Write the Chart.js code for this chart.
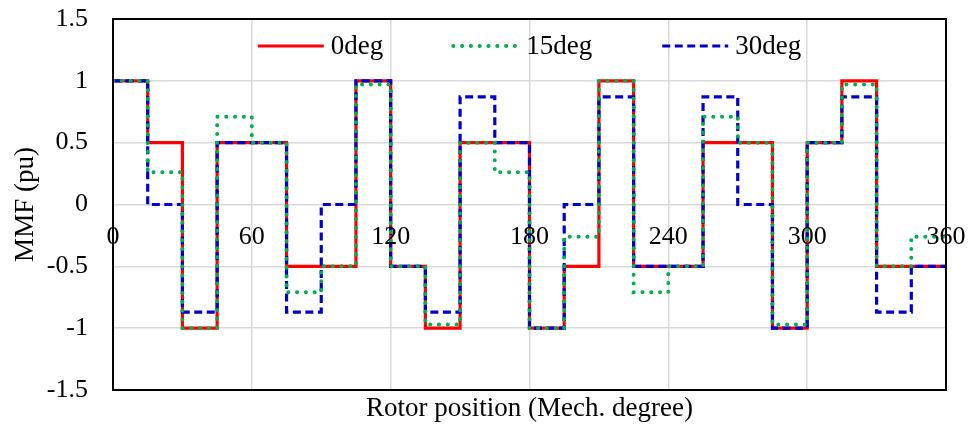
<!DOCTYPE html>
<html>
<head>
<meta charset="utf-8">
<title>MMF vs rotor position</title>
<script src="https://cdn.jsdelivr.net/npm/chart.js@4.4.1/dist/chart.umd.min.js"></script>
<style>
    html, body { margin: 0; padding: 0; background: #fff; }
    #wrap { width: 969px; height: 425px; position: relative; }
</style>
</head>
<body>
<div id="wrap"><canvas id="mmfChart"></canvas></div>
<script>
// step edges (mech. degrees); each value holds until the next edge
var angles = [0, 15, 30, 45, 60, 75, 90, 105, 120, 135, 150, 165, 180,
              195, 210, 225, 240, 255, 270, 285, 300, 315, 330, 345, 360];

var mmf0 = [1, 0.5, -1, 0.5, 0.5, -0.5, -0.5, 1, -0.5, -1, 0.5, 0.5, -1,
            -0.5, 1, -0.5, -0.5, 0.5, 0.5, -1, 0.5, 1, -0.5, -0.5, -0.5];
var mmf15 = [1, 0.26, -1, 0.71, 0.5, -0.71, -0.5, 0.97, -0.5, -0.97, 0.5, 0.26, -1,
             -0.26, 1, -0.71, -0.5, 0.71, 0.5, -0.97, 0.5, 0.97, -0.5, -0.26, -0.26];
var mmf30 = [1, 0, -0.87, 0.5, 0.5, -0.87, 0, 1, -0.5, -0.87, 0.87, 0.5, -1,
             0, 0.87, -0.5, -0.5, 0.87, 0, -1, 0.5, 0.87, -0.87, -0.5, -0.5];

var seriesNames = ['0deg', '15deg', '30deg'];
var xTicks = [0, 60, 120, 180, 240, 300, 360];
var yTicks = [-1.5, -1, -0.5, 0, 0.5, 1, 1.5];

var FONT = "'Liberation Serif', 'Times New Roman', serif";

function toPoints(values) {
    return angles.map(function (a, i) { return { x: a, y: values[i] }; });
}

// x labels sit just under the zero line, legend floats inside the plot, black frame
var overlay = {
    id: 'overlay',
    afterDraw: function (chart) {
        var ctx = chart.ctx;
        var area = chart.chartArea;
        var xs = chart.scales.x;
        var ys = chart.scales.y;

        ctx.save();
        ctx.strokeStyle = '#000';
        ctx.lineWidth = 2;
        ctx.strokeRect(area.left, area.top, area.right - area.left, area.bottom - area.top);

        ctx.fillStyle = '#000';
        ctx.font = '26px ' + FONT;
        ctx.textAlign = 'center';
        ctx.textBaseline = 'middle';
        var y0 = ys.getPixelForValue(0) + 33;
        xTicks.forEach(function (t) {
            ctx.fillText(String(t), xs.getPixelForValue(t), y0);
        });

        // legend
        var lineLen = 66, gap = 7, itemGap = 70;
        ctx.font = '27px ' + FONT;
        ctx.textAlign = 'left';
        var widths = seriesNames.map(function (n) { return ctx.measureText(n).width; });
        var total = 0;
        widths.forEach(function (w, i) {
            total += lineLen + gap + w + (i < widths.length - 1 ? itemGap : 0);
        });
        var lx = (area.left + area.right) / 2 - total / 2;
        var ly = 46;
        chart.data.datasets.forEach(function (ds, i) {
            ctx.save();
            ctx.strokeStyle = ds.borderColor;
            ctx.lineWidth = ds.borderWidth;
            ctx.lineCap = ds.borderCapStyle || 'butt';
            ctx.setLineDash(ds.borderDash || []);
            ctx.beginPath();
            ctx.moveTo(lx, ly);
            ctx.lineTo(lx + lineLen, ly);
            ctx.stroke();
            ctx.restore();
            ctx.fillText(ds.label, lx + lineLen + gap, ly + 1);
            lx += lineLen + gap + widths[i] + itemGap;
        });
        ctx.restore();
    }
};

var ctx = document.getElementById('mmfChart').getContext('2d');
new Chart(ctx, {
    type: 'line',
    data: {
        datasets: [{
            label: seriesNames[0],
            data: toPoints(mmf0),
            borderColor: '#ff0000',
            borderWidth: 3.2,
            stepped: 'before',
            pointRadius: 0,
            order: 2
        }, {
            label: seriesNames[1],
            data: toPoints(mmf15),
            borderColor: '#00b050',
            borderWidth: 4,
            borderDash: [0.1, 8.7],
            borderCapStyle: 'round',
            stepped: 'before',
            pointRadius: 0,
            order: 0
        }, {
            label: seriesNames[2],
            data: toPoints(mmf30),
            borderColor: '#0000cc',
            borderWidth: 3.2,
            borderDash: [8, 4.5],
            stepped: 'before',
            pointRadius: 0,
            order: 1
        }]
    },
    options: {
        responsive: true,
        maintainAspectRatio: false,
        animation: false,
        layout: { padding: { top: 19, right: 23, left: 0, bottom: 0 } },
        plugins: {
            legend: { display: false },
            tooltip: { enabled: false }
        },
        scales: {
            x: {
                type: 'linear',
                min: 0,
                max: 360,
                afterBuildTicks: function (scale) {
                    scale.ticks = xTicks.map(function (v) { return { value: v }; });
                },
                afterFit: function (scale) {
                    scale.height = 35;
                    scale.paddingLeft = 0;
                    scale.paddingRight = 0;
                },
                ticks: { display: false },
                grid: { color: '#d9d9d9', lineWidth: 1.5, drawTicks: false },
                border: { display: false },
                title: {
                    display: true,
                    text: 'Rotor position (Mech. degree)',
                    color: '#000',
                    font: { family: FONT, size: 27 },
                    padding: { top: 0, bottom: 0 }
                }
            },
            y: {
                min: -1.5,
                max: 1.5,
                afterBuildTicks: function (scale) {
                    scale.ticks = yTicks.map(function (v) { return { value: v }; });
                },
                afterFit: function (scale) {
                    scale.width = 113;
                    scale.paddingTop = 0;
                    scale.paddingBottom = 0;
                },
                ticks: {
                    color: '#000',
                    padding: 25,
                    font: { family: FONT, size: 26 },
                    callback: function (v) { return String(v); }
                },
                grid: { color: '#d9d9d9', lineWidth: 1.5, drawTicks: false },
                border: { display: false },
                title: {
                    display: true,
                    text: 'MMF (pu)',
                    color: '#000',
                    font: { family: FONT, size: 27 },
                    padding: { top: 10, bottom: 0 }
                }
            }
        }
    },
    plugins: [overlay]
});
</script>
</body>
</html>
